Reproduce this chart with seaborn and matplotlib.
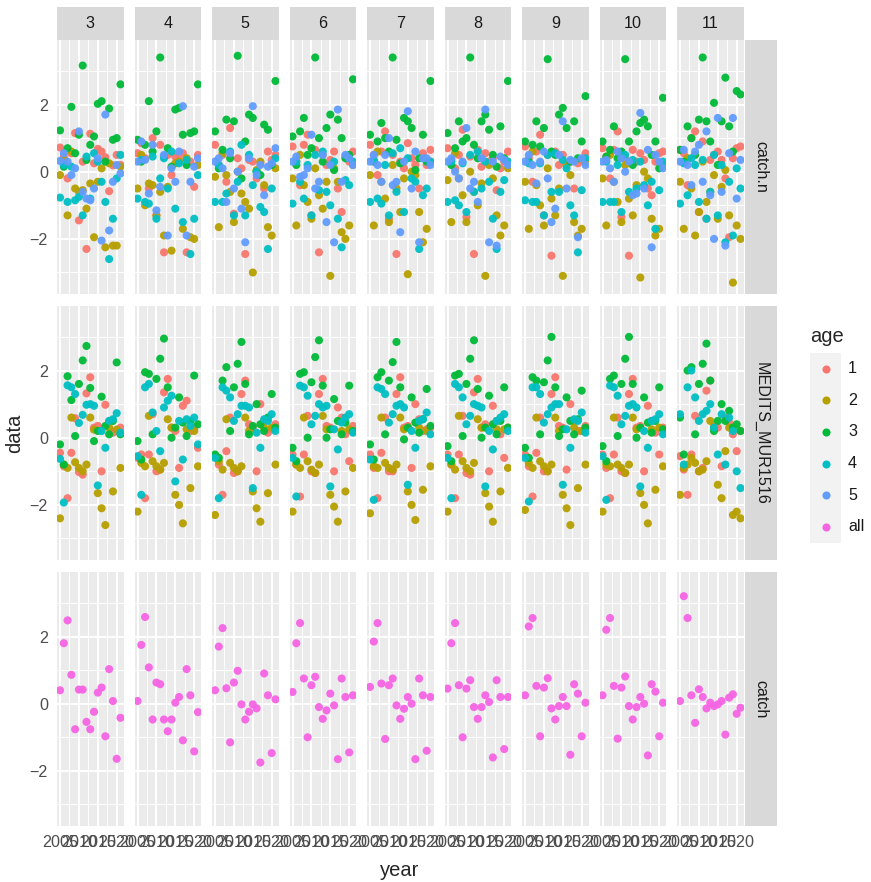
import numpy as np
import pandas as pd
import matplotlib
matplotlib.use("Agg")
import matplotlib.pyplot as plt
from matplotlib.patches import Rectangle
import seaborn as sns

# facet labels, years and ages
panels = ["3", "4", "5", "6", "7", "8", "9", "10", "11"]
rows = ["catch.n", "MEDITS_MUR1516", "catch"]
years = list(range(2005, 2022))
ages = ["1", "2", "3", "4", "5", "all"]
palette = ["#F8766D", "#B79F00", "#00BA38", "#00BFC4", "#619CFF", "#F564E3"]

# catch.n residuals, one list per panel (3..11), 2005-2021
catchn_age1 = [
    [0.72, 0.45, -0.2, 0.55, 1.15, -1.45, 0.3, -2.3, 1.13, 0.25, 0.68, 0.6, 0.43, -0.58, 0.19, 0.5, 0.2],
    [0.55, 0.85, 0.4, -0.5, 1.0, -1.3, 0.8, -2.4, 0.5, -0.1, 0.45, 0.35, 0.55, -2.4, 0.3, -0.45, 0.5],
    [0.8, 0.2, 0.5, -0.3, 1.3, -1.25, 0.4, 0.1, -2.45, 0.35, 0.3, -0.2, 0.25, -0.5, 0.6, 0.35, 0.5],
    [0.75, 0.3, -0.4, 0.8, 1.1, -1.3, 0.65, -2.4, 0.5, 0.2, 0.35, 0.6, -0.5, -1.2, 0.45, 0.3, 0.6],
    [0.8, 0.5, -0.1, 0.6, 1.2, -1.4, 0.5, -2.45, 0.3, 0.1, 0.85, 0.4, 0.2, -0.5, 0.55, 0.2, 0.65],
    [0.7, 0.35, 0.1, 0.5, 1.25, -1.35, 0.45, -2.45, 0.65, 0.15, 0.55, 0.3, 0.4, -0.55, 0.1, 0.3, 0.6],
    [0.75, 0.4, -0.3, 0.6, 1.1, -1.3, 0.5, -2.5, 0.6, 0.2, 0.5, 0.25, 0.3, -0.5, 0.25, 0.35, 0.55],
    [0.7, 0.45, -0.2, 0.65, 1.2, -1.35, 0.4, -2.5, 0.65, 0.3, 0.55, 0.35, -0.5, -0.7, 0.3, 0.55, 0.6],
    [0.65, 0.55, -0.4, 1.0, 1.2, -1.2, 0.9, -1.4, 0.35, 0.5, 0.6, 0.35, -0.2, -1.95, 0.4, 0.7, 0.75],
]
catchn_age2 = [
    [-0.1, 0.35, -1.3, 0.6, -0.5, -0.6, -0.55, -1.1, -0.35, -1.95, -0.3, 0.1, -2.25, 0.25, -2.2, -2.2, 0.15],
    [-0.5, 0.5, -1.0, -0.35, -0.4, -1.3, -0.6, -1.9, -0.45, -2.35, 0.25, 0.3, -1.7, 0.4, -1.95, -2.0, 0.2],
    [-0.15, -1.65, 0.55, -0.1, -0.6, -1.5, 0.0, -0.65, -0.9, -1.1, -3.0, 0.05, 0.3, -0.4, -1.65, -1.9, 0.1],
    [-0.2, -1.6, 0.5, -0.4, -0.9, -1.4, 0.1, -0.7, -1.1, -0.3, -3.1, 0.1, -0.3, -1.8, -2.0, -1.6, 0.2],
    [-0.1, -1.6, 0.6, -0.3, -0.8, -1.5, 0.2, -0.5, -1.2, -0.2, -3.05, 0.0, -0.1, -1.2, -2.1, -1.7, 0.3],
    [-0.25, -1.5, 0.55, -0.2, -0.7, -1.5, 0.0, -0.6, -1.0, -0.35, -3.1, 0.2, -0.2, -1.3, -1.9, -1.6, 0.1],
    [-0.3, -1.7, 0.6, -0.4, -1.0, -1.6, 0.1, -0.8, -1.3, -0.5, -3.1, 0.2, -0.1, -1.5, -1.9, -1.7, 0.3],
    [-0.2, -1.6, 0.5, -0.3, -0.9, -1.5, 0.2, -0.8, -1.3, -0.4, -3.15, 0.0, -0.2, -1.4, -1.9, -1.7, 0.2],
    [-0.3, -1.7, 0.4, -0.5, -1.9, -1.2, 0.3, -0.9, -0.6, -0.1, -1.4, -0.45, 0.05, -1.3, -3.3, -1.6, -2.0],
]
catchn_age3 = [
    [1.23, 0.15, 0.7, 1.93, 0.55, 1.1, 3.16, 0.35, 0.8, 1.05, 2.02, 2.1, 0.3, 1.88, 0.95, 1.0, 2.6],
    [0.95, 0.3, 0.8, 2.1, 0.6, 1.2, 3.4, 0.45, 0.7, 0.15, 1.85, 1.9, 1.1, 0.2, 1.15, 1.2, 2.6],
    [1.2, 0.1, 0.65, 1.55, 0.4, 1.5, 3.45, -0.2, 0.9, 1.7, 1.6, 0.0, -0.1, 1.4, 1.25, 0.2, 2.7],
    [1.05, 0.2, 1.2, 1.6, 0.5, 0.7, 3.4, 1.0, 0.3, 1.3, 1.7, 0.05, 1.55, 1.0, 0.4, 0.5, 2.75],
    [1.1, 0.3, 0.9, 1.45, 1.0, 0.6, 3.4, 0.95, 0.25, 1.6, 1.5, 1.3, 0.05, 0.4, 1.1, 0.3, 2.7],
    [1.15, 0.2, 0.7, 1.5, 0.9, 1.0, 3.4, 0.8, 0.4, 1.5, 1.7, 1.25, 0.5, 0.15, 1.35, 0.4, 2.7],
    [0.9, 0.3, 0.8, 1.5, 0.75, 1.3, 3.35, 0.6, 0.5, 1.7, 1.9, 1.3, 0.3, 1.5, 0.4, 0.9, 2.25],
    [0.9, 0.45, 0.65, 1.35, 0.4, 0.6, 3.35, 0.9, 0.2, 1.2, 1.45, 1.55, 1.35, 0.5, 0.9, 0.1, 2.2],
    [0.65, 0.3, 1.35, 1.0, 0.5, 1.55, 3.4, 1.5, 0.9, 2.05, 0.2, 1.5, 2.8, 1.35, 0.6, 2.4, 2.3],
]
catchn_age4 = [
    [-0.77, 0.2, -0.9, 0.15, -0.85, -0.75, -1.3, 0.45, -0.8, 0.55, 0.3, -0.3, -0.9, -2.6, -1.4, -0.2, 0.5],
    [-0.8, 0.35, -0.9, -0.95, 0.45, -1.4, -0.2, 0.4, -0.5, 0.6, -1.1, 0.25, -1.5, 0.35, -2.45, -1.4, -0.1],
    [-0.9, 0.2, -0.9, -0.65, 0.6, -1.3, -0.3, 0.8, -1.3, 0.5, -0.4, 0.0, -1.05, -1.2, -2.3, -0.5, 0.4],
    [-0.95, 0.3, -0.3, -0.8, 0.2, -1.3, 0.5, -0.55, 0.6, -0.6, -1.0, 0.3, -1.4, -2.25, -0.25, -0.4, 0.3],
    [-0.9, 0.35, -0.8, -0.95, 0.2, -1.3, 0.55, -0.6, 0.7, -1.2, 0.4, -0.2, -0.3, -2.3, -0.7, -0.5, 0.3],
    [-0.9, 0.3, -0.85, -1.0, 0.25, -1.2, 0.5, -0.6, 0.6, -0.5, 0.3, -0.3, -1.4, -2.3, -0.6, -0.25, 0.3],
    [-0.85, 0.25, -0.9, -0.9, 0.25, -1.3, 0.5, -0.6, 0.55, -0.6, 0.35, 0.1, -1.0, -1.3, -2.4, -0.55, 0.4],
    [-0.9, 0.3, -0.9, -0.9, 0.2, -1.2, 0.5, -0.6, 0.35, -0.5, 0.3, -0.4, -1.0, -0.3, -1.7, -0.55, 0.3],
    [-0.95, 0.25, -0.7, 0.4, 0.2, -0.9, 0.35, -1.4, -0.6, 0.5, -1.3, 0.2, -2.1, -0.3, -1.9, 0.1, -0.5],
]
catchn_age5 = [
    [0.32, 0.55, 0.3, -0.1, 0.1, 1.2, -0.6, -0.8, -0.85, -0.5, 0.4, -2.05, 1.7, -1.75, -0.3, 0.2, -0.05],
    [0.3, 0.9, 0.35, -0.65, 0.8, -1.15, -0.45, 0.5, -1.9, 0.1, -0.3, 0.6, 1.95, -1.9, -0.3, 0.15, 0.4],
    [0.3, 0.4, 0.1, -0.9, 0.55, -0.5, 0.0, -1.1, -2.1, 0.4, 1.95, -0.1, 0.2, -0.7, 0.15, 0.25, 0.7],
    [0.3, 0.45, -0.15, -0.1, 0.1, 1.1, -0.5, -0.3, 0.5, -1.5, 0.2, -2.1, 1.85, -0.3, 0.5, 0.4, 0.2],
    [0.3, 0.5, 0.2, -0.3, 0.5, 1.0, -0.4, -0.3, -1.8, 0.3, 1.8, -0.5, 0.6, -2.1, 0.4, 0.4, 0.2],
    [0.3, 0.4, 0.0, -0.2, 0.3, 1.3, -0.5, -0.3, -0.9, 0.4, 1.85, -2.1, 0.3, -2.2, 0.45, 0.35, 0.2],
    [0.3, 0.5, 0.2, -0.35, 0.3, 0.6, -0.2, -1.5, -1.1, 0.5, 1.5, -0.5, 0.35, 0.3, -1.95, 0.4, 0.2],
    [0.3, 0.35, 0.1, -0.3, 0.6, 0.4, 0.0, 0.3, -0.7, -0.65, 1.75, -0.5, 0.65, -2.25, 0.5, 0.3, 0.1],
    [0.3, 0.65, 0.2, -0.4, 0.6, 0.8, -0.3, 1.2, -0.7, -2.0, 1.6, -0.6, -2.2, 0.55, 1.6, -0.8, 0.35],
]

# MEDITS_MUR1516 survey residuals (ages 1-4)
medits_age1 = [
    [-0.45, -0.85, -1.8, -0.45, 0.58, -1.02, -1.1, 1.32, 1.8, 0.3, 0.35, -1.0, 0.98, 0.49, 0.15, 0.2, 0.3],
    [-0.6, -0.5, -1.8, -0.5, 0.7, -1.0, -0.95, 1.35, 1.75, 0.3, 0.2, -0.9, 0.95, 1.1, 0.2, 0.3, -0.3],
    [-0.55, -0.8, -1.7, -0.4, 0.6, -1.05, -1.0, 1.3, 1.7, 0.4, 0.3, -1.0, 1.0, 0.5, 0.15, 0.25, 0.4],
    [-0.5, -0.8, -1.75, -0.5, 0.65, -1.0, -1.05, 1.3, 1.75, 0.35, 0.3, -1.0, 0.9, 0.6, 0.1, -0.7, 0.35],
    [-0.5, -0.9, -1.8, -0.45, 0.6, -1.0, -1.0, 1.3, 1.8, 0.3, 0.35, -0.9, 1.0, 0.55, 0.2, 0.25, 0.3],
    [-0.5, -0.8, -1.8, -0.5, 0.65, -1.05, -1.1, 1.35, 1.75, 0.3, 0.4, -1.0, 0.95, 0.5, 0.1, -0.6, 0.3],
    [-0.5, -0.85, -1.75, -0.45, 0.6, -1.0, -1.0, 1.3, 1.8, 0.35, 0.3, -0.95, 1.0, 0.5, 0.2, 0.2, 0.35],
    [-0.5, -0.9, -1.8, -0.5, 0.6, -1.0, -1.05, 1.3, 1.75, 0.3, 0.35, -1.0, 0.95, 0.5, 0.15, -0.5, 0.3],
    [-0.55, -0.95, -1.7, -0.5, 0.65, -1.0, -0.9, 1.4, 1.7, 0.35, 0.3, -0.85, 0.6, 0.45, 0.1, -0.4, 0.2],
]
medits_age2 = [
    [-2.4, -0.8, -0.9, 0.6, -0.73, -0.9, -1.0, -0.8, 0.6, 0.24, -1.65, -2.1, -2.6, 0.3, -1.6, 0.24, -0.9],
    [-2.2, -0.75, -0.85, 0.65, -0.7, -0.85, -0.95, -0.75, 0.55, 0.3, -1.7, -2.0, -2.55, 0.25, -1.5, 0.2, -0.85],
    [-2.3, -0.7, -0.95, 0.55, -0.75, -0.9, -1.0, -0.85, 0.6, 0.2, -1.6, -2.1, -2.5, 0.3, -1.65, 0.3, -0.8],
    [-2.2, -0.8, -0.9, 0.6, -0.7, -0.95, -1.05, -0.8, 0.65, 0.25, -1.7, -2.05, -2.5, 0.2, -1.6, 0.25, -0.9],
    [-2.25, -0.85, -0.9, 0.6, -0.75, -0.9, -0.95, -0.8, 0.6, 0.25, -1.6, -2.0, -2.45, 0.3, -1.55, 0.2, -0.85],
    [-2.2, -0.8, -0.95, 0.65, -0.7, -0.9, -1.0, -0.75, 0.55, 0.3, -1.65, -2.05, -2.5, 0.25, -1.6, 0.25, -0.9],
    [-2.15, -0.75, -0.9, 0.6, -0.7, -0.85, -1.0, -0.8, 0.6, 0.2, -1.7, -2.1, -2.6, 0.3, -1.5, 0.2, -0.8],
    [-2.2, -0.8, -0.85, 0.6, -0.8, -0.9, -1.05, -0.8, 0.6, 0.25, -1.65, -2.0, -2.55, 0.25, -1.55, 0.3, -0.85],
    [-1.7, -0.9, -0.8, -0.6, -0.75, -1.0, -0.95, -0.7, 0.5, 0.3, -1.4, -1.8, -0.4, 0.3, -2.3, -2.2, -2.4],
]
medits_age3 = [
    [-0.2, -0.8, 1.83, 1.12, 0.05, 1.6, 2.3, 2.73, 1.48, -0.1, 0.2, 1.22, 0.35, 0.1, 0.5, 2.24, 0.1],
    [-0.1, -0.65, 1.95, 1.9, 0.1, 1.75, 2.35, 2.95, 1.5, 0.0, 0.3, 1.2, 0.45, 0.05, 0.5, 1.85, 0.4],
    [-0.5, -0.6, 1.7, 2.1, 0.2, 1.5, 2.2, 2.85, 1.6, 0.1, 0.35, 1.0, 0.4, 0.2, 0.6, 1.3, 0.3],
    [-0.3, -0.7, 1.9, 1.95, 0.0, 1.65, 2.4, 2.9, 1.55, 0.0, 0.25, 1.15, 0.5, 0.1, 0.45, 1.55, 0.2],
    [-0.2, -0.65, 1.8, 1.95, 0.1, 1.7, 2.25, 2.85, 1.5, -0.05, 0.3, 1.2, 0.45, 0.15, 0.55, 1.45, 0.35],
    [-0.25, -0.7, 1.85, 1.9, 0.05, 1.6, 2.35, 2.9, 1.45, 0.0, 0.3, 1.25, 0.4, 0.1, 0.5, 1.5, 0.3],
    [-0.3, -0.6, 1.8, 1.7, 0.1, 1.65, 2.3, 3.0, 1.5, 0.05, 0.25, 1.2, 0.5, 0.1, 0.55, 1.4, 0.3],
    [-0.25, -0.7, 1.75, 1.85, 0.05, 1.6, 2.35, 3.0, 1.6, 0.0, 0.3, 1.2, 0.45, 0.15, 0.5, 1.5, 0.25],
    [0.6, -0.5, 2.0, 2.1, 0.1, 1.6, 2.2, 2.8, 1.7, 0.2, 0.5, 1.0, 0.5, 0.8, 0.3, 0.4, 0.2],
]
medits_age4 = [
    [-0.63, -1.93, 1.56, 1.5, 1.3, 0.44, 0.68, 0.98, 1.0, 0.95, -1.42, 0.2, -0.3, 0.5, 0.55, 0.73, 0.15],
    [-0.55, -1.7, 1.5, 1.6, 0.75, 0.2, -0.4, 0.9, 1.1, 1.25, -1.3, 0.5, -0.65, 0.55, 0.35, 0.6, -0.2],
    [-0.6, -1.8, 1.5, 1.4, 1.2, 0.5, 0.7, 0.95, 0.95, 0.9, -1.5, 0.15, -0.3, 0.55, 0.5, 0.7, 0.2],
    [-0.6, -1.75, 1.55, 1.5, 1.25, 0.4, 0.65, 1.0, 0.9, 0.95, -1.45, 0.25, -0.35, 0.45, 0.6, 0.7, 0.15],
    [-0.65, -1.85, 1.5, 1.45, 1.3, 0.45, 0.7, 0.95, 1.0, 0.9, -1.4, 0.2, -0.3, 0.5, 0.55, 0.75, 0.1],
    [-0.6, -1.8, 1.6, 1.5, 1.2, 0.4, 0.65, 1.0, 0.95, 0.9, -1.45, 0.2, -0.35, 0.5, 0.6, 0.7, 0.2],
    [-0.6, -1.9, 1.5, 1.5, 1.3, 0.45, 0.7, 0.9, 1.0, 1.0, -1.4, 0.25, -0.3, 0.55, 0.5, 0.75, 0.15],
    [-0.55, -1.85, 1.55, 1.5, 1.25, 0.4, 0.65, 0.95, 1.0, 0.9, -1.45, 0.2, -0.3, 0.5, 0.55, 0.7, 0.1],
    [0.7, -0.8, 1.5, 2.0, 1.2, 0.5, 0.7, 0.8, 1.0, 0.3, -0.5, 0.7, -0.8, 0.6, 0.2, -1.0, -1.5],
]

# total catch residuals (age "all")
catch_all = [
    [0.4, 1.8, 2.48, 0.86, -0.76, 0.42, 0.42, -0.54, -0.76, -0.24, 0.33, 0.48, -0.97, 1.03, 0.08, -1.64, -0.42],
    [0.08, 1.75, 2.58, 1.08, -0.47, 0.63, 0.58, -0.47, -0.82, -0.47, 0.03, 0.2, -1.09, 1.03, 0.25, -1.42, -0.25],
    [0.4, 1.7, 2.25, 0.46, -1.15, 0.63, 0.98, -0.02, -0.47, -0.24, -0.02, -0.14, -1.75, 0.9, 0.25, -1.47, 0.13],
    [0.35, 1.8, 2.4, 0.75, -1.0, 0.55, 0.8, -0.1, -0.45, -0.2, 0.3, -0.05, -1.65, 0.75, 0.2, -1.45, 0.25],
    [0.5, 1.85, 2.4, 0.6, -1.05, 0.55, 0.75, -0.05, -0.45, -0.15, 0.2, 0.0, -1.65, 0.75, 0.25, -1.4, 0.2],
    [0.45, 1.8, 2.4, 0.55, -1.0, 0.45, 0.7, -0.1, -0.45, -0.1, 0.25, 0.05, -1.6, 0.7, 0.2, -1.35, 0.2],
    [0.25, 2.3, 2.55, 0.53, -0.97, 0.48, 0.76, -0.14, -0.47, -0.07, 0.2, -0.07, -1.52, 0.58, 0.3, -0.97, 0.03],
    [0.25, 2.2, 2.55, 0.53, -1.04, 0.48, 0.81, -0.07, -0.47, -0.1, 0.2, 0.0, -1.54, 0.58, 0.36, -0.97, 0.03],
    [0.08, 3.2, 2.55, 0.25, -0.57, 0.43, 0.2, -0.14, 0.03, -0.07, -0.02, 0.08, -0.92, 0.18, 0.28, -0.3, -0.12],
]

# long table
records = []
series = [
    ("catch.n", "1", catchn_age1), ("catch.n", "2", catchn_age2), ("catch.n", "3", catchn_age3),
    ("catch.n", "4", catchn_age4), ("catch.n", "5", catchn_age5),
    ("MEDITS_MUR1516", "1", medits_age1), ("MEDITS_MUR1516", "2", medits_age2),
    ("MEDITS_MUR1516", "3", medits_age3), ("MEDITS_MUR1516", "4", medits_age4),
    ("catch", "all", catch_all),
]
for row, age, vals in series:
    for p, panel_vals in zip(panels, vals):
        for yr, v in zip(years, panel_vals):
            records.append((p, row, age, yr, v))
df = pd.DataFrame(records, columns=["panel", "qname", "age", "year", "data"])

sns.set_style("white")
plt.rcParams["font.family"] = ["Liberation Sans", "DejaVu Sans"]

W, H = 871, 882
fig = plt.figure(figsize=(W / 100, H / 100), dpi=100)


def box(x, y, w, h):
    # pixel box (top-left origin) to figure fraction
    return [x / W, 1 - (y + h) / H, w / W, h / H]


pan_left, pan_step, pan_w = 57, 77.5, 66.5
row_top, row_step, row_h = 40, 266, 254

for r, row in enumerate(rows):
    for c, p in enumerate(panels):
        ax = fig.add_axes(box(pan_left + c * pan_step, row_top + r * row_step, pan_w, row_h))
        ax.set_facecolor("#EBEBEB")
        sub = df[(df["panel"] == p) & (df["qname"] == row)]
        sns.scatterplot(data=sub, x="year", y="data", hue="age", hue_order=ages,
                        palette=palette, s=34, linewidth=0, alpha=0.95,
                        legend=False, ax=ax, zorder=3)
        ax.set_xlim(2004.2, 2021.8)
        ax.set_ylim(-3.64, 3.92)
        ax.set_xticks([2005, 2010, 2015, 2020])
        ax.set_xticks([2007.5, 2012.5, 2017.5], minor=True)
        ax.set_yticks([-2, 0, 2])
        ax.set_yticks([-3, -1, 1, 3], minor=True)
        ax.grid(which="major", color="white", lw=1.4)
        ax.grid(which="minor", color="white", lw=0.7)
        ax.set_axisbelow(True)
        for s in ax.spines.values():
            s.set_visible(False)
        ax.set_xlabel("")
        ax.set_ylabel("")
        ax.tick_params(which="minor", length=0)
        ax.tick_params(which="major", length=3.5, width=0.8, color="#333333",
                       labelcolor="#4D4D4D", labelsize=11.6, pad=3)
        if r < 2:
            ax.tick_params(axis="x", length=0, labelbottom=False)
        if c > 0:
            ax.tick_params(axis="y", length=0, labelleft=False)

        # top strips
        if r == 0:
            sax = fig.add_axes(box(pan_left + c * pan_step, 7, pan_w, 33))
            sax.set_facecolor("#D9D9D9")
            sax.set_xticks([])
            sax.set_yticks([])
            for s in sax.spines.values():
                s.set_visible(False)
            sax.text(0.5, 0.5, p, ha="center", va="center", fontsize=11.6,
                     color="#1A1A1A", transform=sax.transAxes)

    # right strips
    rax = fig.add_axes(box(745, row_top + r * row_step, 32, row_h))
    rax.set_facecolor("#D9D9D9")
    rax.set_xticks([])
    rax.set_yticks([])
    for s in rax.spines.values():
        s.set_visible(False)
    rax.text(0.5, 0.5, row, ha="center", va="center", rotation=-90, fontsize=11.6,
             color="#1A1A1A", transform=rax.transAxes)

# axis titles
fig.text(400 / W, 1 - 870 / H, "year", ha="center", va="center", fontsize=14.5)
fig.text(15 / W, 1 - 433 / H, "data", ha="center", va="center", rotation=90, fontsize=14.5)

# legend
fig.text(810 / W, 1 - 336 / H, "age", ha="left", va="center", fontsize=14.5)
key_h = 31.6
lax = fig.add_axes(box(810, 353, 31, key_h * len(ages)))
lax.set_facecolor("#F2F2F2")
lax.set_xlim(0, 1)
lax.set_ylim(len(ages), 0)
lax.set_xticks([])
lax.set_yticks([])
for s in lax.spines.values():
    s.set_visible(False)
for i, (a, col) in enumerate(zip(ages, palette)):
    lax.scatter([0.5], [i + 0.5], s=34, color=col, linewidth=0)
    fig.text(848 / W, 1 - (353 + key_h * (i + 0.5)) / H, a, ha="left", va="center",
             fontsize=11.6, color="#1A1A1A")

fig.savefig("out.png", dpi=100, facecolor="white")
